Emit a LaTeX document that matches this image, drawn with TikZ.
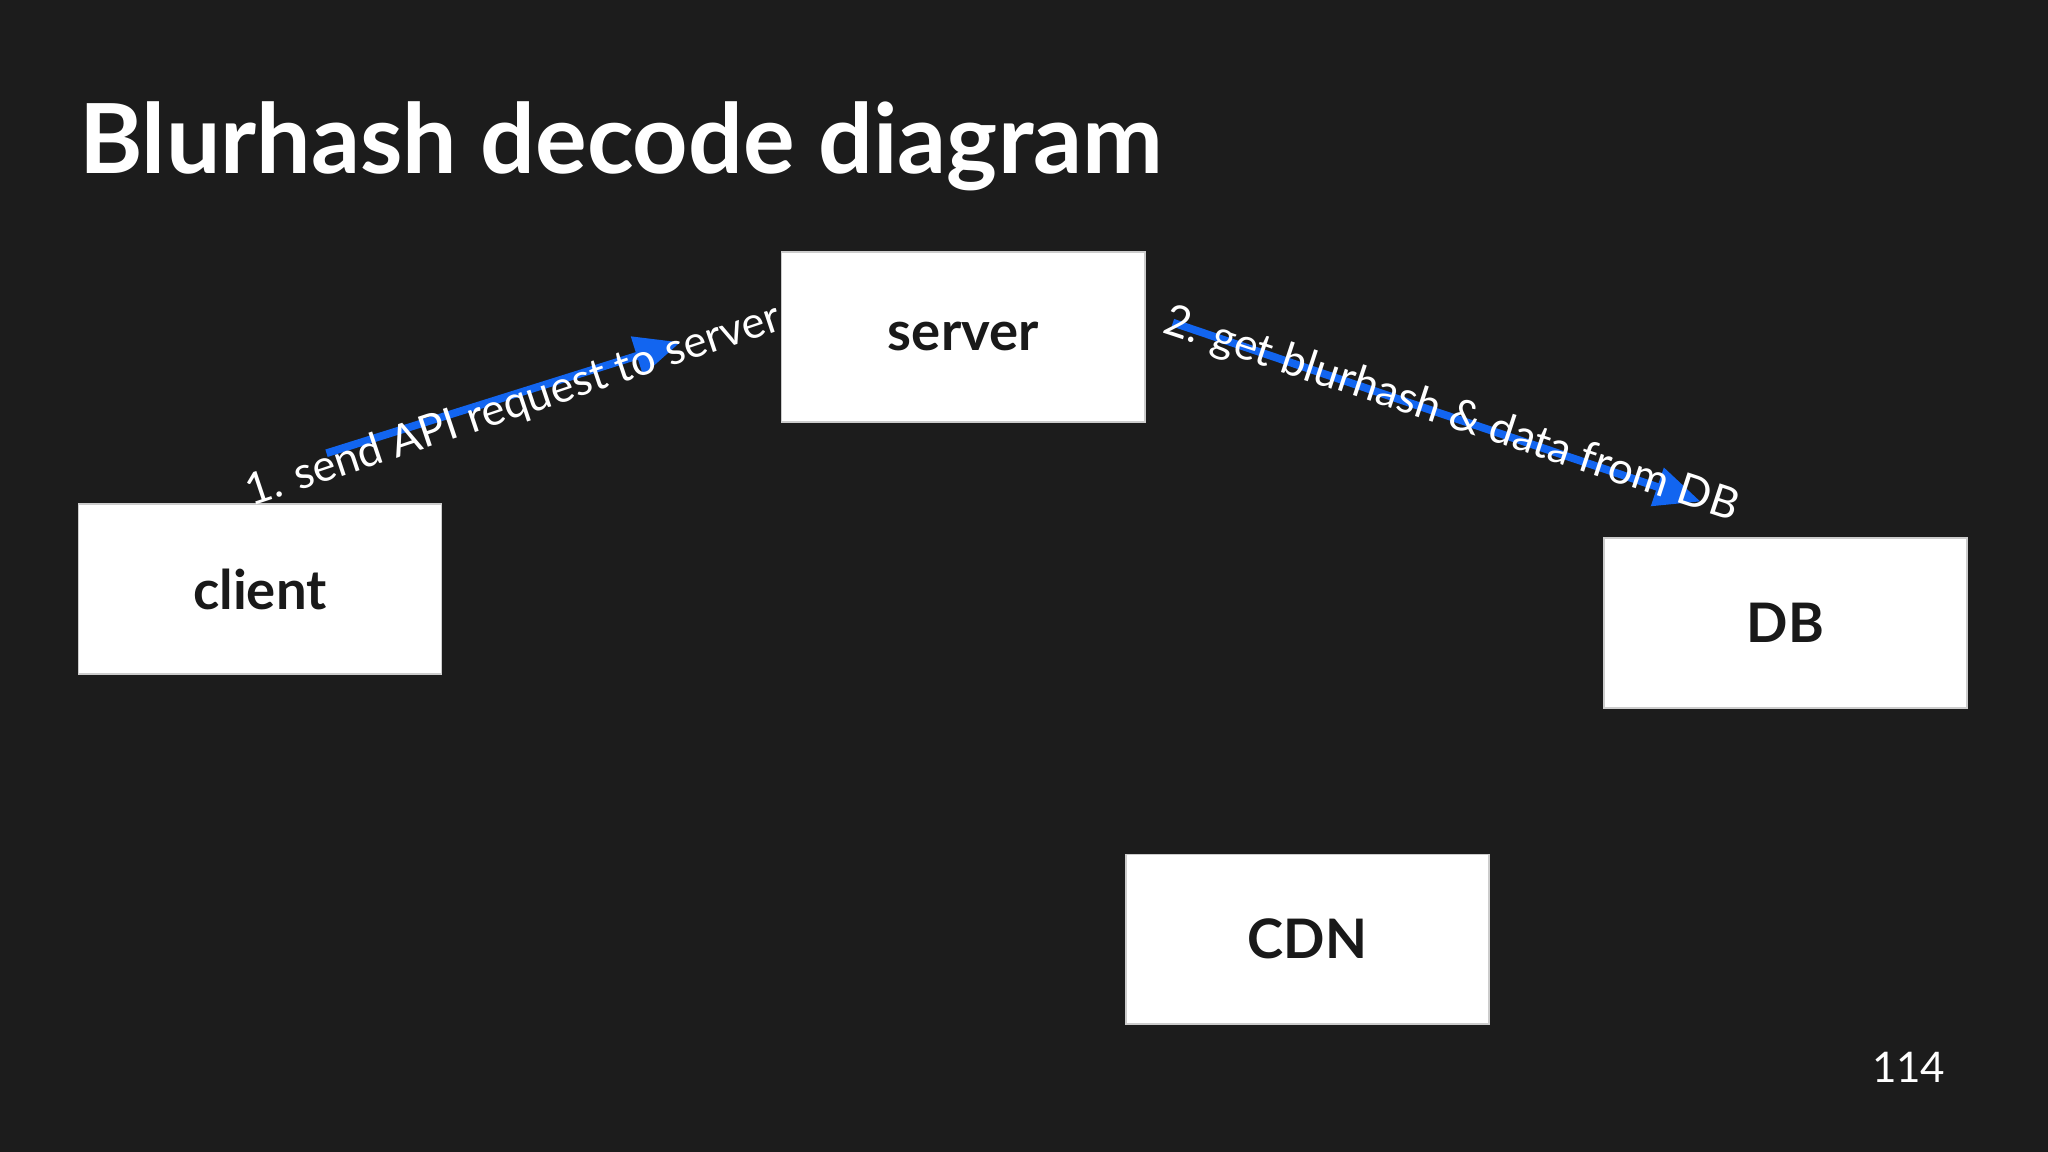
\documentclass[tikz,border=0pt]{standalone}
\usepackage{fontspec}
\setmainfont{Lato}
\usetikzlibrary{arrows.meta}

\begin{document}
\begin{tikzpicture}[x=0.013061cm,y=-0.013061cm]
  \tikzstyle{boxW}=[fill=white,draw=gray!40,minimum width=278*0.013061cm,minimum height=130*0.013061cm,font=\bfseries\fontsize{15.5}{18}\selectfont,text=black!90]
  \tikzstyle{flow}=[draw={rgb,255:red,18;green,101;blue,240},line width=2.2pt,-{Triangle[length=13pt,width=11pt]}]
  \tikzstyle{lbl}=[text=white,font=\fontsize{12.5}{15}\selectfont,inner sep=0pt]
  \fill[black!89] (0,0) rectangle (1568,882);
  \useasboundingbox (0,0) rectangle (1568,882);

  % title and page number
  \node[anchor=base west,text=white,font=\bfseries\fontsize{27.5}{32}\selectfont,inner sep=0pt] (title) at (60,133) {Blurhash decode diagram};
  \node[anchor=base east,text=white,font=\fontsize{12}{14}\selectfont,inner sep=0pt] (page) at (1490,829) {114};

  % boxes
  \node[boxW] (server) at (737.5,258) {server};
  \node[boxW] (client) at (199,451) {client};
  \node[boxW] (db)     at (1367,477) {DB};
  \node[boxW] (cdn)    at (1001,719) {CDN};

  % arrows
  \coordinate (a1s) at (250,347);
  \coordinate (a1e) at (521,262);
  \coordinate (a2s) at (898,247);
  \coordinate (a2e) at (1302,384);
  \draw[flow] (a1s) -- (a1e);
  \draw[flow] (a2s) -- (a2e);
  \node[lbl,rotate=18.5] (l1) at (393,311) {1. send API request to server};
  \node[lbl,rotate=-18.2] (l2) at (1111,318) {2. get blurhash \& data from DB};
\end{tikzpicture}
\end{document}
